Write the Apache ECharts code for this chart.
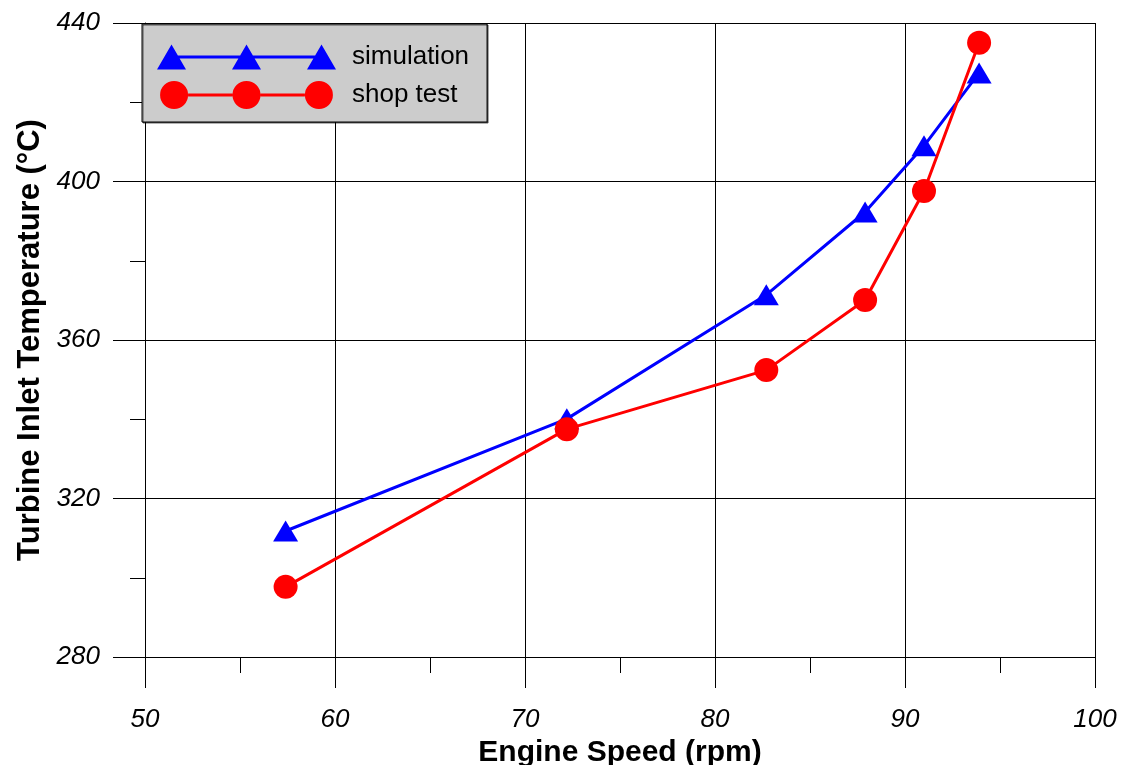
<!DOCTYPE html>
<html>
<head>
<meta charset="utf-8">
<script src="https://cdn.jsdelivr.net/npm/echarts@6/dist/echarts.min.js"></script>
<style>
  html, body { margin: 0; padding: 0; background: #fff; }
  #chart { width: 1126px; height: 765px; }
</style>
</head>
<body>
<div id="chart"></div>
<script>
// data
var speed      = [57.4, 72.2, 82.7, 87.9, 91.0, 93.9];
var simulation = [311.8, 340.1, 371.4, 392.3, 409.0, 427.4];
var shopTest   = [297.7, 337.5, 352.4, 370.1, 397.6, 435.0];
var xTicks = [50, 60, 70, 80, 90, 100];
var yTicks = [280, 320, 360, 400, 440];

function pairs(xs, ys) {
    var out = [];
    for (var i = 0; i < xs.length; i++) out.push([xs[i], ys[i]]);
    return out;
}

// legend icons: three markers joined by a line
var triIcon = 'path://M0 25L14.5 0L29 25Z M75 25L89.5 0L104 25Z M150 25L164.5 0L179 25Z M14.5 11L164.5 11L164.5 14L14.5 14Z';
var dotIcon = 'path://M0 14.5A14.5 14.5 0 1 1 29 14.5A14.5 14.5 0 1 1 0 14.5Z' +
    ' M75 14.5A14.5 14.5 0 1 1 104 14.5A14.5 14.5 0 1 1 75 14.5Z' +
    ' M150 14.5A14.5 14.5 0 1 1 179 14.5A14.5 14.5 0 1 1 150 14.5Z' +
    ' M29 13L75 13L75 16L29 16Z M104 13L150 13L150 16L104 16Z';

var myChart = echarts.init(document.getElementById('chart'));

var lineCol = '#000';
var option = {
    animation: false,
    grid: {
        left: 145,
        right: 31,
        top: 23,
        bottom: 108,
        outerBoundsMode: 'none',
        containLabel: false
    },
    legend: {
        orient: 'vertical',
        left: 142,
        top: 24,
        padding: [20, 18, 13, 15],
        itemGap: 11,
        itemWidth: 179,
        itemHeight: 28,
        backgroundColor: '#cccccc',
        borderColor: '#000',
        borderWidth: 1,
        shadowColor: 'rgba(0,0,0,0.6)',
        shadowOffsetX: 1,
        shadowOffsetY: 1,
        textStyle: {
            fontFamily: 'Liberation Sans, Arial, sans-serif',
            fontSize: 26,
            color: '#000',
            padding: [0, 0, 0, 11]
        },
        data: [
            { name: 'simulation', icon: triIcon },
            { name: 'shop test', icon: dotIcon }
        ]
    },
    xAxis: {
        type: 'value',
        min: xTicks[0],
        max: xTicks[xTicks.length - 1],
        interval: 10,
        name: 'Engine Speed (rpm)',
        nameLocation: 'middle',
        nameGap: 66,
        nameTextStyle: {
            fontFamily: 'Liberation Sans, Arial, sans-serif',
            fontSize: 30,
            fontWeight: 'bold',
            color: '#000'
        },
        axisLine: { onZero: false, lineStyle: { color: lineCol, width: 1 } },
        axisTick: { length: 31, lineStyle: { color: lineCol } },
        minorTick: { show: true, splitNumber: 2, length: 16, lineStyle: { color: lineCol } },
        axisLabel: {
            margin: 50,
            fontFamily: 'Liberation Sans, Arial, sans-serif',
            fontSize: 26,
            fontStyle: 'italic',
            color: '#000'
        },
        splitLine: { show: true, lineStyle: { color: lineCol, width: 1 } }
    },
    yAxis: {
        type: 'value',
        min: yTicks[0],
        max: yTicks[yTicks.length - 1],
        interval: 40,
        name: 'Turbine Inlet Temperature (\u00B0C)',
        nameLocation: 'middle',
        nameGap: 98,
        nameTextStyle: {
            fontFamily: 'Liberation Sans, Arial, sans-serif',
            fontSize: 31,
            fontWeight: 'bold',
            color: '#000'
        },
        axisLine: { show: true, onZero: false, lineStyle: { color: lineCol, width: 1 } },
        axisTick: { show: true, length: 32, lineStyle: { color: lineCol } },
        minorTick: { show: true, splitNumber: 2, length: 15, lineStyle: { color: lineCol } },
        axisLabel: {
            margin: 45,
            fontFamily: 'Liberation Sans, Arial, sans-serif',
            fontSize: 26,
            fontStyle: 'italic',
            color: '#000'
        },
        splitLine: { show: true, lineStyle: { color: lineCol, width: 1 } }
    },
    series: [
        {
            name: 'simulation',
            type: 'line',
            data: pairs(speed, simulation),
            symbol: 'triangle',
            symbolSize: [25, 21],
            color: '#0000ff',
            itemStyle: { color: '#0000ff' },
            lineStyle: { color: '#0000ff', width: 3 }
        },
        {
            name: 'shop test',
            type: 'line',
            data: pairs(speed, shopTest),
            symbol: 'circle',
            symbolSize: 24,
            color: '#ff0000',
            itemStyle: { color: '#ff0000' },
            lineStyle: { color: '#ff0000', width: 3 }
        }
    ]
};

myChart.setOption(option);
</script>
</body>
</html>
